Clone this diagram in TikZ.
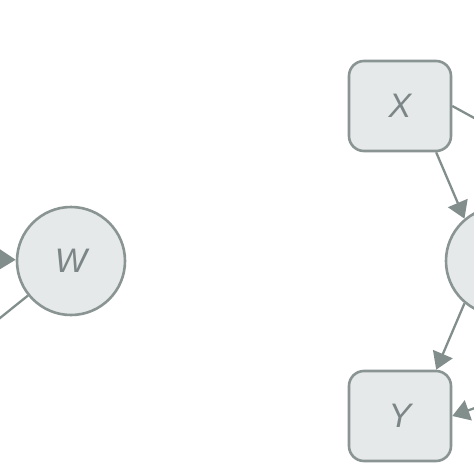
\documentclass[tikz,border=0pt]{standalone}
\usepackage{fontspec}
\setsansfont{Liberation Sans}
\usepackage{xcolor}
\usepackage{tikz}
\usetikzlibrary{
	arrows.meta
}
\definecolor{nodeline}{RGB}{138,148,147}
\definecolor{nodefill}{RGB}{230,233,233}
\definecolor{nodetext}{RGB}{125,134,134}
\definecolor{edgegrey}{RGB}{130,142,140}

\begin{document}
\begin{tikzpicture}[x=1pt,y=-1pt,
	latent/.style={circle,draw=nodeline,fill=nodefill,line width=2.6pt,minimum size=108pt,inner sep=0pt,text=nodetext,font=\fontsize{34}{34}\sffamily\itshape},
	obs/.style={rectangle,rounded corners=15pt,draw=nodeline,fill=nodefill,line width=2.6pt,minimum width=102pt,minimum height=90pt,inner sep=0pt,text=nodetext,font=\fontsize{34}{34}\sffamily\itshape},
	link/.style={draw=edgegrey,line width=2.3pt},
	>={Triangle[length=17pt,width=21pt]}]
	\useasboundingbox (0,0) rectangle (474,474);
	\clip (0,0) rectangle (474,474);
	\node[latent] (W) at (71,261) {W};
	\node[obs] (X) at (400,106) {X};
	\node[obs] (Y) at (400,416) {Y};
	\node[latent] (Z) at (500,261) {};
	\coordinate (Win) at (-60,258);
	\coordinate (Wout) at (-71,375);
	\coordinate (Xout) at (540,154);
	\coordinate (Yin) at (540,385);
	%
	\draw [->,link] (Win) -- (W);
	\draw [link] (W) -- (Wout);
	\draw [link] (X.east) -- (Xout);
	\draw [->,link] (X.-52) -- (Z.130);
	\draw [->,link] (Z.230) -- (Y.52);
	\draw [->,link] (Yin) -- (Y.east);
\end{tikzpicture}
\end{document}
